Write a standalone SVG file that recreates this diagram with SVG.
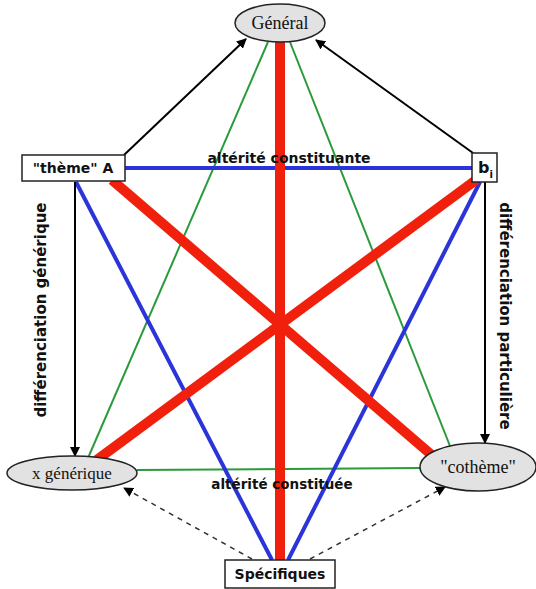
<svg xmlns="http://www.w3.org/2000/svg" width="536" height="589" viewBox="0 0 536 589">
<defs>
<marker id="ah" viewBox="0 0 10 10" refX="9" refY="5" markerWidth="10" markerHeight="10" markerUnits="userSpaceOnUse" orient="auto">
<path d="M0,0 L10,5 L0,10 z" fill="#000"/>
</marker>
<style>
.red{stroke:#f0200c;stroke-width:10;fill:none}
.blue{stroke:#2a34d8;stroke-width:4;fill:none}
.green{stroke:#2a9a3a;stroke-width:2;fill:none}
.blk{stroke:#000;stroke-width:2;fill:none}
.dash{stroke:#333;stroke-width:1.5;stroke-dasharray:5,5;fill:none}
.ell{fill:#e2e2e2;stroke:#222;stroke-width:1.5}
.box{fill:#fff;stroke:#222;stroke-width:1.5}
.serif{font-family:"Liberation Serif","Times New Roman",serif;fill:#111}
.sans{font-family:"DejaVu Sans","Liberation Sans",sans-serif;font-weight:bold;fill:#111}
</style>
</defs>
<rect width="536" height="589" fill="#fff"/>
<g id="connectors">
<line class="green" x1="268" y1="42" x2="88" y2="458"/>
<line class="green" x1="290" y1="42" x2="450" y2="446"/>
<line class="green" x1="137" y1="470" x2="420" y2="468"/>
<line class="blue" x1="125" y1="168" x2="472" y2="168"/>
<line class="blue" x1="76" y1="182" x2="272" y2="560"/>
<line class="blue" x1="480" y1="182" x2="288" y2="560"/>
<line class="red" x1="280" y1="40" x2="280" y2="560"/>
<line class="red" x1="112" y1="180" x2="434" y2="457"/>
<line class="red" x1="476" y1="180" x2="94" y2="462"/>
<line class="blk" x1="124" y1="155" x2="246" y2="39" marker-end="url(#ah)"/>
<line class="blk" x1="473" y1="153" x2="316" y2="40" marker-end="url(#ah)"/>
<line class="blk" x1="75" y1="182" x2="75" y2="456" marker-end="url(#ah)"/>
<line class="blk" x1="485" y1="182" x2="485" y2="443" marker-end="url(#ah)"/>
<line class="dash" x1="252" y1="559" x2="124" y2="488" marker-end="url(#ah)"/>
<line class="dash" x1="310" y1="559" x2="445" y2="487" marker-end="url(#ah)"/>
<text class="sans" x="289" y="163" font-size="14" text-anchor="middle">altérité constituante</text>
<text class="sans" x="282" y="489" font-size="13.5" text-anchor="middle">altérité constituée</text>
<text class="sans" font-size="15" text-anchor="middle" transform="translate(46,310) rotate(-90)">différenciation générique</text>
<text class="sans" font-size="15" text-anchor="middle" transform="translate(500,316) rotate(90)">différenciation particulière</text>
</g>
<g id="general">
<ellipse class="ell" cx="280" cy="23" rx="45" ry="19"/>
<text class="serif" x="280" y="29" font-size="18" text-anchor="middle">Général</text>
</g>
<g id="theme">
<rect class="box" x="22" y="155" width="103" height="26"/>
<text class="sans" x="73" y="173" font-size="14" text-anchor="middle">"thème" A</text>
</g>
<g id="bi">
<rect class="box" x="472" y="153" width="25" height="29"/>
<text class="sans" x="478" y="173" font-size="16">b<tspan font-size="10" dy="5">i</tspan></text>
</g>
<g id="xgenerique">
<ellipse class="ell" cx="72" cy="473" rx="65" ry="17"/>
<text class="serif" x="72" y="479" font-size="17" text-anchor="middle">x générique</text>
</g>
<g id="cotheme">
<ellipse class="ell" cx="478" cy="467" rx="58" ry="24"/>
<text class="serif" x="478" y="473" font-size="18" text-anchor="middle">"cothème"</text>
</g>
<g id="specifiques">
<rect class="box" x="225" y="560" width="110" height="28"/>
<text class="sans" x="280" y="579" font-size="14" text-anchor="middle">Spécifiques</text>
</g>
</svg>
